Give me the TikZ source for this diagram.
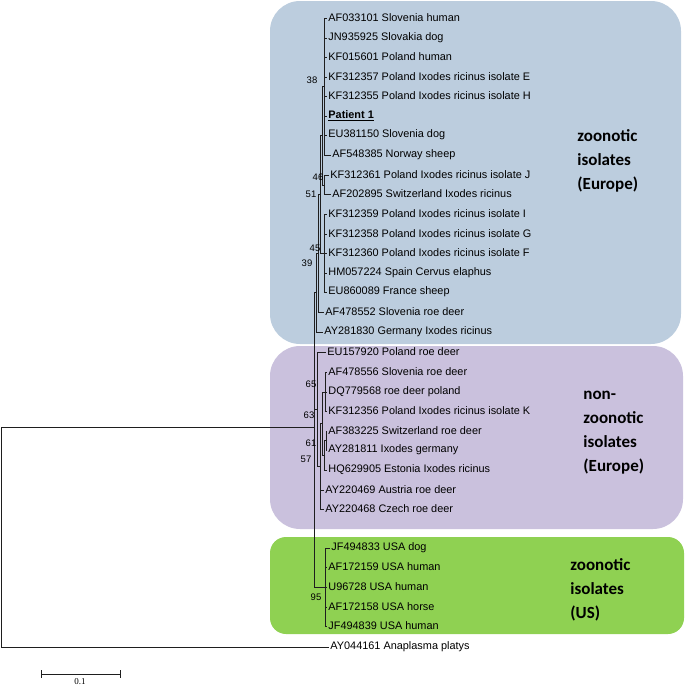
\documentclass[tikz,border=0pt]{standalone}
\usepackage{fontspec}
\setmainfont{Liberation Sans}
\newfontfamily\groupfont{Carlito}
\newfontfamily\scalefont{Liberation Serif}
\usepackage{tikz}

\definecolor{zooblue}{RGB}{188,205,222}
\definecolor{nonpurple}{RGB}{202,193,221}
\definecolor{usgreen}{RGB}{143,209,82}
\definecolor{branch}{RGB}{30,30,30}

\begin{document}
\begin{tikzpicture}[x=1pt,y=-1pt,line width=0.85pt,
  leaf/.style={anchor=west,inner sep=1pt,font=\fontsize{10.9}{13}\selectfont},
  boot/.style={inner sep=0pt,font=\fontsize{9.5}{10}\selectfont},
  group/.style={anchor=west,align=left,inner sep=0pt,font=\groupfont\bfseries\fontsize{17}{24}\selectfont},
  edge/.style={draw=branch}]
  \useasboundingbox (0,0) rectangle (685,686);

  % coloured groups
  \fill[zooblue,rounded corners=30pt] (270,1) rectangle (681,344);
  \fill[nonpurple,rounded corners=30pt] (270,346) rectangle (683,529);
  \fill[usgreen,rounded corners=16pt] (270,537) rectangle (684,634);

  % leaves
  \node[leaf] (l1) at (327,18) {AF033101 Slovenia human};
  \node[leaf] (l2) at (327,38) {JN935925 Slovakia dog};
  \node[leaf] (l3) at (327,57) {KF015601 Poland human};
  \node[leaf] (l4) at (327,77) {KF312357 Poland Ixodes ricinus isolate E};
  \node[leaf] (l5) at (327,96) {KF312355 Poland Ixodes ricinus isolate H};
  \node[leaf] (l6) at (327,116) {\underline{\textbf{Patient 1}}};
  \node[leaf] (l7) at (327,135) {EU381150 Slovenia dog};
  \node[leaf] (l8) at (331,155) {AF548385 Norway sheep};
  \node[leaf] (l9) at (329,175) {KF312361 Poland Ixodes ricinus isolate J};
  \node[leaf] (l10) at (331,194) {AF202895 Switzerland Ixodes ricinus};
  \node[leaf] (l11) at (327,214) {KF312359 Poland Ixodes ricinus isolate I};
  \node[leaf] (l12) at (327,234) {KF312358 Poland Ixodes ricinus isolate G};
  \node[leaf] (l13) at (327,253) {KF312360 Poland Ixodes ricinus isolate F};
  \node[leaf] (l14) at (327,273) {HM057224 Spain Cervus elaphus};
  \node[leaf] (l15) at (327,292) {EU860089 France sheep};
  \node[leaf] (l16) at (324,312) {AF478552 Slovenia roe deer};
  \node[leaf] (l17) at (323,332) {AY281830 Germany Ixodes ricinus};
  \node[leaf] (l18) at (326,352) {EU157920 Poland roe deer};
  \node[leaf] (l19) at (327,372) {AF478556 Slovenia roe deer};
  \node[leaf] (l20) at (327,392) {DQ779568 roe deer poland};
  \node[leaf] (l21) at (327,411) {KF312356 Poland Ixodes ricinus isolate K};
  \node[leaf] (l22) at (327,431) {AF383225 Switzerland roe deer};
  \node[leaf] (l23) at (327,450) {AY281811 Ixodes germany};
  \node[leaf] (l24) at (327,470) {HQ629905 Estonia Ixodes ricinus};
  \node[leaf] (l25) at (324,490) {AY220469 Austria roe deer};
  \node[leaf] (l26) at (324,509) {AY220468 Czech roe deer};
  \node[leaf] (l27) at (330,548) {JF494833 USA dog};
  \node[leaf] (l28) at (327,567) {AF172159 USA human};
  \node[leaf] (l29) at (327,587) {U96728 USA human};
  \node[leaf] (l30) at (327,607) {AF172158 USA horse};
  \node[leaf] (l31) at (327,626) {JF494839 USA human};
  \node[leaf] (l32) at (329,647) {AY044161 Anaplasma platys};

  % inner nodes
  \coordinate (c1) at (324,86);
  \coordinate (c2) at (324,185);
  \coordinate (c3) at (324,253);
  \coordinate (n38) at (322,135);
  \coordinate (n51) at (320,194);
  \coordinate (n45) at (318,253);
  \coordinate (n39) at (316,292);
  \coordinate (d1) at (325,392);
  \coordinate (d2) at (326,440);
  \coordinate (n61) at (324,455);
  \coordinate (n65) at (322,423);
  \coordinate (n57) at (320,466);
  \coordinate (n63) at (317,409);
  \coordinate (us) at (325,587);
  \coordinate (ing) at (314,427);
  \coordinate (root) at (1,537);

  % branches
  \draw[edge] (c1) |- (l1.west) (c1) |- (l2.west) (c1) |- (l3.west) (c1) |- (l4.west)
              (c1) |- (l5.west) (c1) |- (l6.west) (c1) |- (l7.west) (c1) |- (l8.west);
  \draw[edge] (c2) |- (l9.west) (c2) |- (l10.west);
  \draw[edge] (c3) |- (l11.west) (c3) |- (l12.west) (c3) |- (l13.west)
              (c3) |- (l14.west) (c3) |- (l15.west);
  \draw[edge] (n38) |- (c1) (n38) |- (c2);
  \draw[edge] (n51) |- (n38) (n51) |- (c3);
  \draw[edge] (n45) |- (n51) (n45) |- (l16.west);
  \draw[edge] (n39) |- (n45) (n39) |- (l17.west);
  \draw[edge] (d1) |- (l19.west) (d1) |- (l20.west) (d1) |- (l21.west);
  \draw[edge] (d2) |- (l22.west) (d2) |- (l23.west);
  \draw[edge] (n61) |- (d2) (n61) |- (l24.west);
  \draw[edge] (n65) |- (d1) (n65) |- (n61);
  \draw[edge] (n57) |- (n65) (n57) |- (l25.west) (n57) |- (l26.west);
  \draw[edge] (n63) |- (l18.west) (n63) |- (n57);
  \draw[edge] (us) |- (l27.west) (us) |- (l28.west) (us) |- (l29.west)
              (us) |- (l30.west) (us) |- (l31.west);
  \draw[edge] (ing) |- (n39) (ing) |- (n63) (ing) |- (us);
  \draw[edge] (root) |- (ing) (root) |- (l32.west);

  % bootstrap values
  \node[boot] (b38) at (312,80) {38};
  \node[boot] (b46) at (318,177) {46};
  \node[boot] (b51) at (311,194) {51};
  \node[boot] (b45) at (315,248) {45};
  \node[boot] (b39) at (307,263) {39};
  \node[boot] (b65) at (311,384) {65};
  \node[boot] (b63) at (309,415) {63};
  \node[boot] (b61) at (311,443) {61};
  \node[boot] (b57) at (306,459) {57};
  \node[boot] (b95) at (316,597) {95};

  % group names
  \node[group] (g1) at (577,161) {zoonotic\\isolates\\(Europe)};
  \node[group] (g2) at (583,433) {non-\\zoonotic\\isolates\\(Europe)};
  \node[group] (g3) at (570,590) {zoonotic\\isolates\\(US)};

  % scale bar
  \coordinate (sb1) at (41,674);
  \coordinate (sb2) at (120,674);
  \draw[edge] (sb1) -- (sb2);
  \draw[edge] ([yshift=4pt]sb1) -- ([yshift=-4pt]sb1);
  \draw[edge] ([yshift=4pt]sb2) -- ([yshift=-4pt]sb2);
  \node[inner sep=0pt,font=\scalefont\fontsize{9}{10}\selectfont] (sblab) at (80,682) {0.1};
\end{tikzpicture}
\end{document}
